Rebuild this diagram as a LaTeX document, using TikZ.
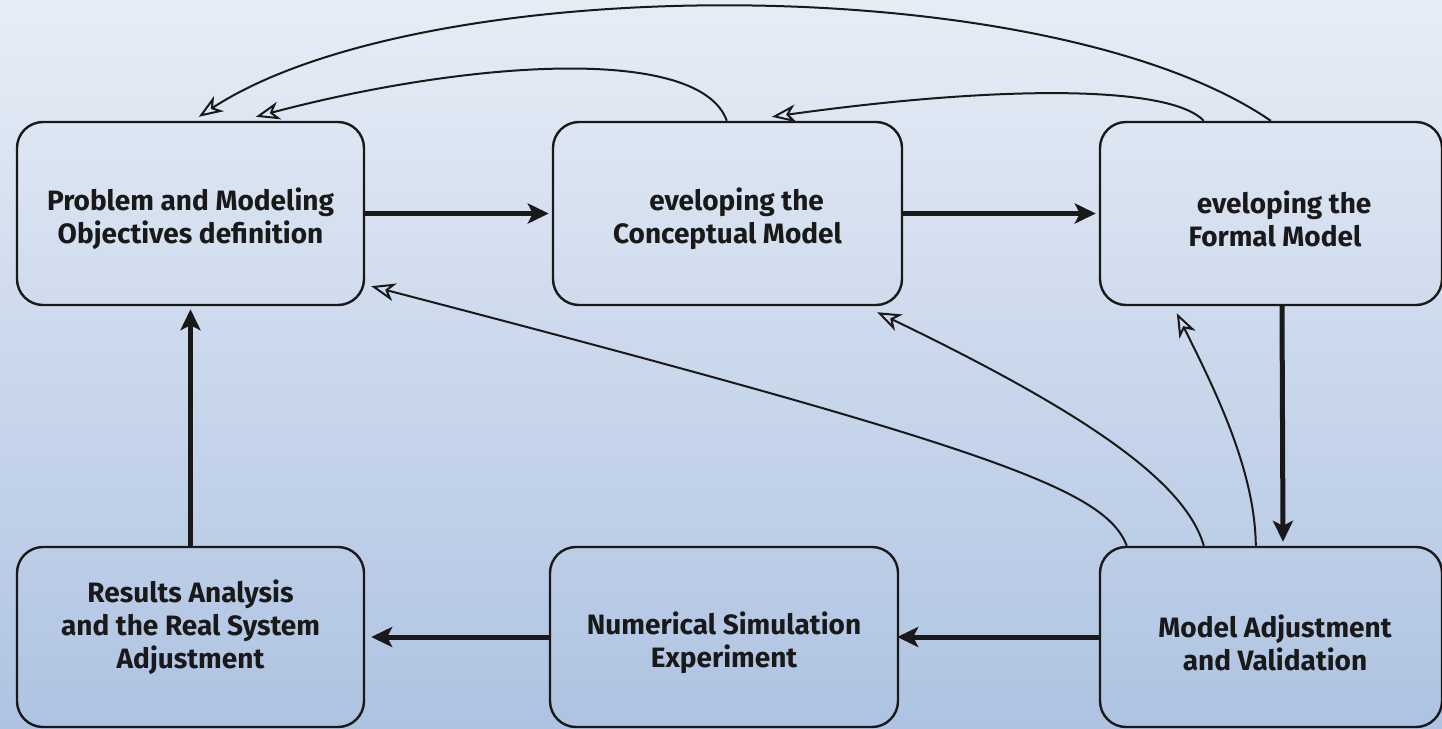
\documentclass[tikz,border=0pt]{standalone}
\usepackage{fontspec}
\setmainfont{Fira Sans}
\usetikzlibrary{arrows.meta,calc}
\definecolor{bgtop}{RGB}{231,237,246}
\definecolor{bgbot}{RGB}{174,195,226}
\definecolor{ink}{RGB}{25,25,25}
\tikzset{
  box/.style={draw=ink, line width=2.4pt, rounded corners=26pt, inner sep=0pt},
  boxtext/.style={align=center, text=ink, inner sep=0pt,
    font=\fontsize{28}{33}\selectfont\bfseries},
  thick arrow/.style={draw=ink, line width=5pt,
    -{Stealth[length=21pt,width=20pt,inset=5pt]}},
  thin arrow/.style={draw=ink, line width=2pt,
    -{Stealth[open,length=24pt,width=18pt,inset=7pt,line width=2pt]}}
}
\begin{document}
\begin{tikzpicture}[x=1pt,y=-1pt]
\shade[top color=bgtop, bottom color=bgbot] (0,0) rectangle (1442,728);
\useasboundingbox (0,0) rectangle (1442,728);
\node[box, minimum width=347pt, minimum height=183pt] (A) at (190.5,213.5) {};
\node[box, minimum width=349pt, minimum height=183pt] (B) at (727.5,213.5) {};
\node[box, minimum width=342pt, minimum height=183pt] (C) at (1271,213.5) {};
\node[box, minimum width=347pt, minimum height=180pt] (D) at (190.5,637) {};
\node[box, minimum width=348pt, minimum height=180pt] (E) at (724,637) {};
\node[box, minimum width=342pt, minimum height=180pt] (F) at (1271,637) {};
\node[boxtext] (tA) at (190.5,218.5) {Problem and Modeling\\Objectives definition};
\node[boxtext] (tB) at (727.5,218.5) {\phantom{D}eveloping the\\Conceptual Model};
\node[boxtext] (tC) at (1275,218.5) {\phantom{D}eveloping the\\Formal Model};
\node[boxtext] (tD) at (190.5,627) {Results Analysis\\and the Real System\\Adjustment};
\node[boxtext] (tE) at (724,643) {Numerical Simulation\\Experiment};
\node[boxtext] (tF) at (1275,643) {Model Adjustment\\and Validation};
% main flow
\draw[thick arrow] (A.east) -- ([xshift=-3pt]B.west);
\draw[thick arrow] (B.east) -- ([xshift=-3pt]C.west);
\draw[thick arrow] ([xshift=11pt]C.south) -- ([xshift=12pt,yshift=4pt]F.north);
\draw[thick arrow] (F.west) -- ([xshift=-2pt]E.east);
\draw[thick arrow] (E.west) -- ([xshift=6pt]D.east);
\draw[thick arrow] (D.north) -- ([yshift=-3pt]A.south);
% feedback arcs on top
\draw[thin arrow] ([xshift=172pt]C.north west) .. controls (1050,-31) and (425,-31) .. ([xshift=183pt,yshift=4pt]A.north west);
\draw[thin arrow] ([xshift=175pt]B.north west) .. controls (700,45) and (470,60) .. ([xshift=240pt,yshift=4pt]A.north west);
\draw[thin arrow] ([xshift=105pt]C.north west) .. controls (1170,85) and (1000,85) .. ([xshift=220pt,yshift=4pt]B.north west);
% feedback from validation
\draw[thin arrow] ([xshift=28pt]F.north west) .. controls (1105,490) and (1000,450) .. ([xshift=6pt,yshift=20pt]A.south east);
\draw[thin arrow] ([xshift=105pt]F.north west) .. controls (1185,480) and (1080,410) .. ([xshift=-26pt,yshift=-6pt]B.south east);
\draw[thin arrow] ([xshift=157pt]F.north west) .. controls (1255,470) and (1215,390) .. ([xshift=78pt,yshift=-7pt]C.south west);
\end{tikzpicture}
\end{document}
